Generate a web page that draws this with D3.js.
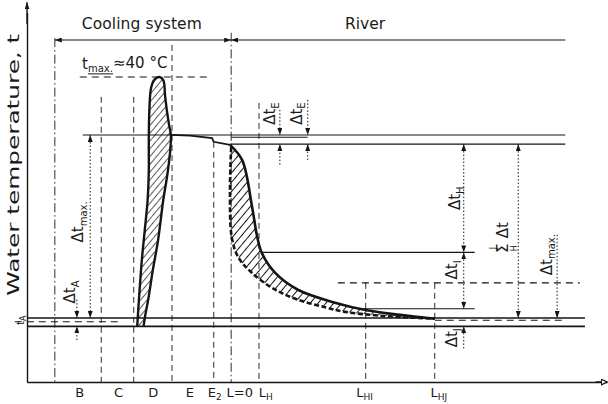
<!DOCTYPE html>
<html>
<head>
<meta charset="utf-8">
<script src="https://cdn.jsdelivr.net/npm/d3@7"></script>
<style>
  body { margin: 0; background: #fff; }
  text { font-family: "DejaVu Sans", sans-serif; fill: #1a1a1a; }
</style>
</head>
<body>
<svg width="608" height="404"></svg>
<script>
// Stations along the flow path (relative length units, 0..100)
const boundaryX   = [4.8, 12.8, 18.4, 25.0, 32.2, 35.2, 40.0, 58.4, 70.3];
const boundaryTop = [45.1, 37.4, 37.4, 44.2, 31.5, 45.8, 36.6, 13.0, 13.0];
const stationPos  = [9.0, 15.7, 21.7, 28.0, 32.3, 36.6, 41.1, 58.1, 70.9];
const stationMain = ["B", "C", "D", "E", "E", "L=0", "L", "L", "L"];
const stationSub  = ["", "", "", "", "2", "", "H", "HI", "HJ"];

// Temperature levels, °C
const tMax = 40.0;
const tHeated = 32.4;
const tHeated2 = 32.1;
const tOutlet = 31.2;
const tH = 17.0;
const tRef = 13.0;
const tI = 9.6;
const tMixed = 8.4;
const tAmbient = 7.3;

// solid and dashed horizontal levels: temperature + extent along x
const solidT    = [tHeated, tHeated2, tOutlet, tH, tI, tMixed, tAmbient];
const solidFrom = [9.6, 35.2, 35.0, 40.5, 57.4, 0, 0];
const solidTo   = [92.8, 48.4, 92.8, 77.2, 77.2, 96.2, 96.2];
const dashT     = [tMax, tRef, 7.9, 8.1];
const dashFrom  = [9.1, 53.6, -2.1, 70.3];
const dashTo    = [31.6, 95.3, 16.4, 92.8];

// temperature profile through the cooling system (hatched lens)
const coolingLeft = [[19.0, 7.3], [19.3, 10.8], [19.8, 16.0], [20.3, 19.9], [20.8, 23.9],
  [21.0, 27.8], [21.0, 31.7], [21.1, 35.7], [21.4, 38.6], [22.0, 39.7], [22.8, 40.0]];
const coolingRight = [[23.5, 39.6], [23.8, 37.6], [24.1, 35.7], [24.5, 33.7], [24.8, 32.4],
  [24.7, 30.4], [24.2, 27.2], [23.5, 23.9], [22.6, 18.6], [21.7, 14.7], [20.9, 10.8],
  [20.4, 8.8], [20.1, 7.3]];
const plateau = [[24.8, 32.4], [28.1, 32.3], [31.9, 32.0], [32.2, 31.5], [35.0, 31.1]];

// temperature decay in the river (upper and lower envelopes)
const riverUpper = [[35.0, 31.1], [37.1, 29.1], [38.8, 23.0], [39.7, 19.0], [40.5, 16.9],
  [42.8, 14.3], [46.7, 12.1], [53.1, 10.4], [58.6, 9.4], [64.3, 8.8], [70.3, 8.3]];
const riverLower = [[35.2, 30.8], [35.0, 25.2], [35.3, 19.0], [36.4, 16.4], [38.8, 14.3],
  [42.8, 12.1], [46.7, 10.8], [51.4, 9.8], [54.8, 9.2], [60.9, 8.7], [70.3, 8.3]];

// dimension arrows with tips at both ends
const dimX    = [10.9, 75.3, 75.3, 84.7];
const dimFrom = [32.4, 31.2, 17.0, 31.2];
const dimTo   = [8.4, 17.0, 9.6, 8.4];
// single pointers (tip at "to")
const ptrX    = [8.6, 8.6, 43.6, 43.6, 48.4, 48.4, 75.3, 91.4];
const ptrFrom = [10.8, 5.5, 35.7, 28.5, 37.0, 29.1, 4.4, 19.3];
const ptrTo   = [8.4, 7.3, 32.4, 31.2, 32.4, 31.2, 7.3, 8.4];

// rotated delta labels
const labX    = [8.8, 7.4, 41.9, 46.5, 73.8, 89.6, 73.3, 73.3, -1.2];
const labT    = [21.0, 11.8, 35.2, 35.2, 24.1, 16.7, 14.7, 5.8, 8.1];
const labMain = ["Δt", "Δt", "Δt", "Δt", "Δt", "Δt", "Δt", "Δt", "t"];
const labSub  = ["max.", "A", "E", "E", "H", "max.", "I", "J", "A"];

const svg = d3.select("svg");
const x = d3.scaleLinear().domain([0, 100]).range([27, 607]);
const y = d3.scaleLinear().domain([0, 48.5]).range([382, 12.2]);
const ink = "#151515";

const defs = svg.append("defs");
defs.append("marker").attr("id", "tip")
  .attr("viewBox", "0 0 10 10").attr("refX", 10).attr("refY", 5)
  .attr("markerWidth", 7).attr("markerHeight", 5).attr("preserveAspectRatio", "none")
  .attr("markerUnits", "userSpaceOnUse").attr("orient", "auto-start-reverse")
  .append("path").attr("d", "M0,0L10,5L0,10z").attr("fill", ink);
defs.append("marker").attr("id", "open")
  .attr("viewBox", "0 0 10 10").attr("refX", 9).attr("refY", 5)
  .attr("markerWidth", 7).attr("markerHeight", 7)
  .attr("markerUnits", "userSpaceOnUse").attr("orient", "auto")
  .append("path").attr("d", "M1,1L9,5L1,9z").attr("fill", "#fff").attr("stroke", ink).attr("stroke-width", 1.6);

function hatch(id, gap, w) {
  const p = defs.append("pattern").attr("id", id)
    .attr("patternUnits", "userSpaceOnUse").attr("width", gap).attr("height", gap)
    .attr("patternTransform", "rotate(40)");
  p.append("line").attr("x1", 0).attr("y1", 0).attr("x2", 0).attr("y2", gap)
    .attr("stroke", ink).attr("stroke-width", w);
}
hatch("hatchA", 5, 1.4);
hatch("hatchB", 6, 2);

// axes
const xAxis = d3.axisBottom(x).tickValues(stationPos).tickSize(0).tickPadding(6).tickSizeOuter(0);
const gx = svg.append("g").attr("transform", `translate(0,${y(0)})`).call(xAxis);
gx.select(".domain").attr("stroke", ink).attr("stroke-width", 1.4);
gx.selectAll(".tick text").each(function (d, i) {
  const t = d3.select(this).text(stationMain[i])
    .style("font-size", "13px").attr("fill", ink);
  if (stationSub[i]) {
    t.append("tspan").attr("dy", "0.3em").style("font-size", "9px").text(stationSub[i]);
  }
});
svg.append("line")
  .attr("x1", x(98)).attr("x2", x(100)).attr("y1", y(0)).attr("y2", y(0))
  .attr("stroke", ink).attr("stroke-width", 1.4).attr("marker-end", "url(#open)");

const yAxis = d3.axisLeft(y).tickValues([]).tickSizeOuter(0);
const gy = svg.append("g").attr("transform", `translate(${x(0)},0)`).call(yAxis);
gy.select(".domain").attr("stroke", ink).attr("stroke-width", 1.4);
svg.append("line")
  .attr("x1", x(0)).attr("x2", x(0)).attr("y1", y(47)).attr("y2", y(49.8))
  .attr("stroke", ink).attr("stroke-width", 1.4).attr("marker-end", "url(#tip)");

svg.append("text")
  .attr("transform", `translate(${x(-2.3)},${y(28.5)}) rotate(-90)`)
  .attr("text-anchor", "middle").attr("dy", "0.35em")
  .attr("textLength", 262).attr("lengthAdjust", "spacingAndGlyphs")
  .style("font-size", "16px").text("Water temperature, t");

// zone boundaries
boundaryX.forEach((bx, i) => {
  const wide = bx === boundaryX[0] || bx === boundaryX[5];
  svg.append("line")
    .attr("x1", x(bx)).attr("x2", x(bx)).attr("y1", y(boundaryTop[i])).attr("y2", y(0))
    .attr("stroke", ink).attr("stroke-width", 0.9)
    .attr("stroke-dasharray", wide ? "9 3 1.5 3" : "6 4");
});

// cooling system / river extents
const tBand = 44.85;
svg.append("line")
  .attr("x1", x(boundaryX[0])).attr("x2", x(boundaryX[5])).attr("y1", y(tBand)).attr("y2", y(tBand))
  .attr("stroke", ink).attr("stroke-width", 1.1)
  .attr("marker-start", "url(#tip)").attr("marker-end", "url(#tip)");
svg.append("line")
  .attr("x1", x(boundaryX[5])).attr("x2", x(92.8)).attr("y1", y(tBand)).attr("y2", y(tBand))
  .attr("stroke", ink).attr("stroke-width", 1.1).attr("marker-start", "url(#tip)");
svg.append("text").attr("x", x(19.8)).attr("y", y(46.3)).attr("text-anchor", "middle")
  .attr("textLength", 120).attr("lengthAdjust", "spacing")
  .style("font-size", "15.5px").text("Cooling system");
svg.append("text").attr("x", x(58.3)).attr("y", y(46.3)).attr("text-anchor", "middle")
  .style("font-size", "15.5px").text("River");

// horizontal levels
solidT.forEach((t, i) => {
  svg.append("line").attr("x1", x(solidFrom[i])).attr("x2", x(solidTo[i]))
    .attr("y1", y(t)).attr("y2", y(t))
    .attr("stroke", ink).attr("stroke-width", t < 9 ? 1.6 : 1.1);
});
dashT.forEach((t, i) => {
  svg.append("line").attr("x1", x(dashFrom[i])).attr("x2", x(dashTo[i]))
    .attr("y1", y(t)).attr("y2", y(t))
    .attr("stroke", ink).attr("stroke-width", 1.1).attr("stroke-dasharray", "7 5");
});

const tmaxLabel = svg.append("text").attr("x", x(9.5)).attr("y", y(41.0))
  .style("font-size", "15px");
tmaxLabel.append("tspan").text("t");
tmaxLabel.append("tspan").attr("dy", "0.3em").style("font-size", "10px")
  .attr("text-decoration", "underline").text("max.");
tmaxLabel.append("tspan").attr("dy", "-0.3em").text("≈40 °C");

// curves
const line = d3.line().x(d => x(d[0])).y(d => y(d[1])).curve(d3.curveCatmullRom);
const lens = coolingLeft.concat(coolingRight);
svg.append("path").datum(lens).attr("d", line)
  .attr("fill", "url(#hatchA)").attr("stroke", ink).attr("stroke-width", 2.4);
svg.append("path").datum(plateau)
  .attr("d", d3.line().x(d => x(d[0])).y(d => y(d[1])))
  .attr("fill", "none").attr("stroke", ink).attr("stroke-width", 1.8);

const band = riverUpper.concat(riverLower.slice().reverse());
svg.append("path").datum(band)
  .attr("d", d3.line().x(d => x(d[0])).y(d => y(d[1])).curve(d3.curveCatmullRomClosed))
  .attr("fill", "url(#hatchB)").attr("stroke", "none");
svg.append("path").datum(riverUpper).attr("d", line)
  .attr("fill", "none").attr("stroke", ink).attr("stroke-width", 2.6);
svg.append("path").datum(riverLower).attr("d", line)
  .attr("fill", "none").attr("stroke", ink).attr("stroke-width", 2.6)
  .attr("stroke-dasharray", "5 2.5");

// dimension arrows
dimX.forEach((dx, i) => {
  svg.append("line").attr("x1", x(dx)).attr("x2", x(dx))
    .attr("y1", y(dimFrom[i])).attr("y2", y(dimTo[i]))
    .attr("stroke", ink).attr("stroke-width", 1).attr("stroke-dasharray", "1.5 2")
    .attr("marker-start", "url(#tip)").attr("marker-end", "url(#tip)");
});
ptrX.forEach((px, i) => {
  svg.append("line").attr("x1", x(px)).attr("x2", x(px))
    .attr("y1", y(ptrFrom[i])).attr("y2", y(ptrTo[i]))
    .attr("stroke", ink).attr("stroke-width", 1).attr("stroke-dasharray", "1.5 2")
    .attr("marker-end", "url(#tip)");
});

// rotated labels
labX.forEach((lx, i) => {
  const small = labMain[i] === "t";
  const t = svg.append("text")
    .attr("transform", `translate(${x(lx)},${y(labT[i])}) rotate(-90)`)
    .attr("text-anchor", "middle").attr("dy", "0.35em")
    .style("font-size", small ? "10px" : "15px");
  t.append("tspan").text(labMain[i]);
  t.append("tspan").attr("dy", "0.35em").style("font-size", small ? "8px" : "10px").text(labSub[i]);
});

// sum label  Σ(H..J) Δt
const sumG = svg.append("g")
  .attr("transform", `translate(${x(82.1)},${y(18.6)}) rotate(-90)`);
sumG.append("text").attr("x", -8).attr("dy", "0.35em").attr("text-anchor", "middle")
  .style("font-size", "15px").text("Σ");
sumG.append("text").attr("x", 10).attr("dy", "0.35em").attr("text-anchor", "middle")
  .style("font-size", "15px").text("Δt");
sumG.append("text").attr("x", -8).attr("y", -10).attr("dy", "0.35em").attr("text-anchor", "middle")
  .style("font-size", "8px").text("J");
sumG.append("text").attr("x", -8).attr("y", 11).attr("dy", "0.35em").attr("text-anchor", "middle")
  .style("font-size", "8px").text("H");
</script>
</body>
</html>
